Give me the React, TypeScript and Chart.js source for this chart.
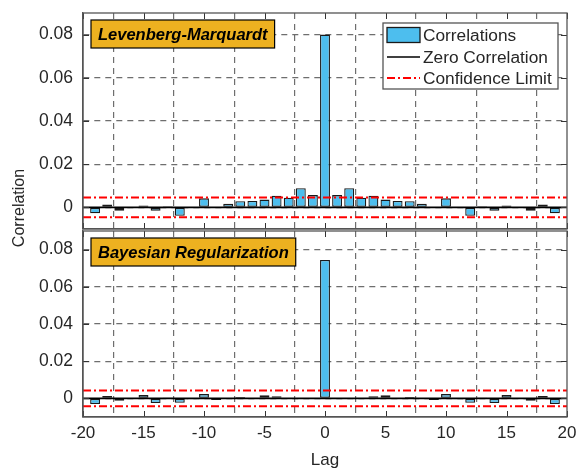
import React, { useEffect, useRef } from "react";
import { Chart, registerables } from "chart.js";

Chart.register(...registerables);

// ---------- data ----------
const lags = [
  -20, -19, -18, -17, -16, -15, -14, -13, -12, -11, -10, -9, -8, -7, -6, -5, -4, -3, -2, -1,
  0, 1, 2, 3, 4, 5, 6, 7, 8, 9, 10, 11, 12, 13, 14, 15, 16, 17, 18, 19, 20,
];

const lmCorrelations = [
  0, -0.0027, 0.0013, -0.0015, 0, 0.0009, -0.0016, 0.0005, -0.0039, -0.0002, 0.0042, 0, 0.0017,
  0.0029, 0.003, 0.0036, 0.0054, 0.0045, 0.0089, 0.0057,
  0.08,
  0.0057, 0.0089, 0.0045, 0.0054, 0.0036, 0.003, 0.0029, 0.0017, 0, 0.0042, -0.0002, -0.0039,
  0.0005, -0.0016, 0.0009, 0, -0.0015, 0.0013, -0.0027, 0,
];

const brCorrelations = [
  0, -0.003, 0.0013, -0.0013, 0, 0.0018, -0.0025, 0.0002, -0.0024, -0.0005, 0.0023, -0.0008, 0,
  0.0008, 0, 0.0017, 0.0012, 0, 0, 0,
  0.0744,
  0, 0, 0, 0.0012, 0.0017, 0, 0.0008, 0, -0.0008, 0.0023, -0.0005, -0.0024, 0.0002, -0.0025,
  0.0018, 0, -0.0013, 0.0013, -0.003, 0,
];

const lmConfidence = 0.0046;
const brConfidence = 0.0042;

const yTickValues = [0, 0.02, 0.04, 0.06, 0.08];
const xTickValues = [-20, -15, -10, -5, 0, 5, 10, 15, 20];
const yRange = [-0.01, 0.09];
const xRange = [-20, 20];

const panelTitles = ["Levenberg-Marquardt", "Bayesian Regularization"];
const legendLabels = ["Correlations", "Zero Correlation", "Confidence Limit"];
const xAxisTitle = "Lag";
const yAxisTitle = "Correlation";

// ---------- style ----------
const FONT = '"Liberation Sans", Arial, Helvetica, sans-serif';
const BAR_FILL = "#4DBEEE";
const BAR_EDGE = "#1a1a1a";
const TEXT = "#262626";
const FRAME = "#555555";
const GRID = "rgba(85,85,85,0.85)";
const LABEL_FILL = "#EDB120";
const DASHDOT = [8, 3, 2, 3];

function buildDatasets(values: number[], conf: number) {
  return [
    {
      type: "bar" as const,
      label: legendLabels[0],
      data: lags.map((l, i) => ({ x: l, y: values[i] })),
      backgroundColor: BAR_FILL,
      borderColor: BAR_EDGE,
      borderWidth: 1.3,
      borderSkipped: false as const,
      barPercentage: 0.82,
      categoryPercentage: 1,
      order: 2,
    },
    {
      type: "line" as const,
      label: legendLabels[1],
      data: [
        { x: xRange[0], y: 0 },
        { x: xRange[1], y: 0 },
      ],
      borderColor: "#000000",
      borderWidth: 1.6,
      pointRadius: 0,
      order: 1,
    },
    {
      type: "line" as const,
      label: legendLabels[2],
      data: [
        { x: xRange[0], y: conf },
        { x: xRange[1], y: conf },
      ],
      borderColor: "#ff0000",
      borderWidth: 2,
      borderDash: DASHDOT,
      pointRadius: 0,
      order: 0,
    },
    {
      type: "line" as const,
      label: "",
      data: [
        { x: xRange[0], y: -conf },
        { x: xRange[1], y: -conf },
      ],
      borderColor: "#ff0000",
      borderWidth: 2,
      borderDash: DASHDOT,
      pointRadius: 0,
      order: 0,
    },
  ];
}

function framePlugin(title: string, withLegend: boolean, withYTitle: boolean) {
  return {
    id: "frame",
    afterDatasetsDraw(chart: any) {
      const { ctx, chartArea } = chart;
      const { left, right, top, bottom } = chartArea;
      const xs = chart.scales.x;
      const ys = chart.scales.y;
      ctx.save();
      // inward ticks
      ctx.strokeStyle = "#333";
      ctx.lineWidth = 1;
      ctx.setLineDash([]);
      const tl = 6;
      xTickValues.forEach((v) => {
        const px = Math.round(xs.getPixelForValue(v)) + 0.5;
        ctx.beginPath();
        ctx.moveTo(px, bottom);
        ctx.lineTo(px, bottom - tl);
        ctx.moveTo(px, top);
        ctx.lineTo(px, top + tl);
        ctx.stroke();
      });
      yTickValues.forEach((v) => {
        const py = Math.round(ys.getPixelForValue(v)) + 0.5;
        ctx.beginPath();
        ctx.moveTo(left, py);
        ctx.lineTo(left + tl, py);
        ctx.moveTo(right, py);
        ctx.lineTo(right - tl, py);
        ctx.stroke();
      });
      // frame
      ctx.strokeStyle = FRAME;
      ctx.lineWidth = 1.3;
      ctx.strokeRect(left, top, right - left, bottom - top);

      // panel label
      ctx.font = `italic bold 16.5px ${FONT}`;
      const tw = ctx.measureText(title).width;
      const bx = left + 8;
      const by = top + 7;
      const bw = tw + 14;
      const bh = 28;
      ctx.fillStyle = LABEL_FILL;
      ctx.fillRect(bx, by, bw, bh);
      ctx.strokeStyle = "#000";
      ctx.lineWidth = 1.2;
      ctx.strokeRect(bx, by, bw, bh);
      ctx.fillStyle = "#000";
      ctx.textBaseline = "middle";
      ctx.textAlign = "left";
      ctx.fillText(title, bx + 7, by + bh / 2 + 1);

      if (withLegend) {
        const lw = 175;
        const lh = 66;
        const lx = right - 9 - lw;
        const ly = top + 10;
        ctx.fillStyle = "#fff";
        ctx.fillRect(lx, ly, lw, lh);
        ctx.strokeStyle = FRAME;
        ctx.lineWidth = 1.3;
        ctx.strokeRect(lx, ly, lw, lh);
        const sx0 = lx + 4;
        const sx1 = lx + 37;
        const rows = [ly + 12, ly + 34, ly + 55];
        // bar patch
        ctx.fillStyle = BAR_FILL;
        ctx.fillRect(sx0, rows[0] - 7.5, sx1 - sx0, 15);
        ctx.strokeStyle = BAR_EDGE;
        ctx.lineWidth = 1.3;
        ctx.strokeRect(sx0, rows[0] - 7.5, sx1 - sx0, 15);
        // zero line
        ctx.strokeStyle = "#000";
        ctx.lineWidth = 1.6;
        ctx.beginPath();
        ctx.moveTo(sx0, rows[1]);
        ctx.lineTo(sx1, rows[1]);
        ctx.stroke();
        // confidence
        ctx.strokeStyle = "#ff0000";
        ctx.lineWidth = 2;
        ctx.setLineDash(DASHDOT);
        ctx.beginPath();
        ctx.moveTo(sx0, rows[2]);
        ctx.lineTo(sx1, rows[2]);
        ctx.stroke();
        ctx.setLineDash([]);
        ctx.fillStyle = TEXT;
        ctx.font = `17.3px ${FONT}`;
        ctx.textBaseline = "middle";
        legendLabels.forEach((t, i) => ctx.fillText(t, sx1 + 3, rows[i] + 1));
      }

      if (withYTitle) {
        ctx.save();
        ctx.translate(20, 208);
        ctx.rotate(-Math.PI / 2);
        ctx.fillStyle = TEXT;
        ctx.font = `16px ${FONT}`;
        ctx.textAlign = "center";
        ctx.textBaseline = "middle";
        ctx.fillText(yAxisTitle, 0, 0);
        ctx.restore();
      }
      ctx.restore();
    },
  };
}

function buildConfig(values: number[], conf: number, panel: number) {
  const isTop = panel === 0;
  return {
    type: "bar" as const,
    data: { datasets: buildDatasets(values, conf) as any },
    options: {
      animation: false as const,
      responsive: false,
      events: [],
      layout: {
        padding: isTop
          ? { left: 0, right: 10, top: 13, bottom: 240 }
          : { left: 0, right: 10, top: 231, bottom: 0 },
      },
      plugins: {
        legend: { display: false },
        tooltip: { enabled: false },
        title: { display: false },
      },
      scales: {
        x: {
          type: "linear" as const,
          min: xRange[0],
          max: xRange[1],
          offset: false,
          afterBuildTicks: (s: any) => {
            s.ticks = xTickValues.map((v) => ({ value: v }));
          },
          afterFit: (s: any) => {
            s.height = isTop ? 0 : 52;
            s.paddingLeft = 0;
            s.paddingRight = 0;
          },
          ticks: {
            display: !isTop,
            color: TEXT,
            padding: 6,
            font: { family: FONT, size: 17 },
            maxRotation: 0,
            autoSkip: false,
            callback: (v: any) => String(v),
          },
          grid: {
            color: GRID,
            lineWidth: 1.2,
            drawTicks: false,
          },
          border: { display: true, color: FRAME, width: 1.3, dash: [6, 5] },
          title: {
            display: !isTop,
            text: xAxisTitle,
            color: TEXT,
            font: { family: FONT, size: 17 },
            padding: { top: 0, bottom: -2 },
          },
        },
        y: {
          type: "linear" as const,
          min: yRange[0],
          max: yRange[1],
          afterBuildTicks: (s: any) => {
            s.ticks = yTickValues.map((v) => ({ value: v }));
          },
          afterFit: (s: any) => {
            s.width = 83;
            s.paddingTop = 0;
            s.paddingBottom = 0;
          },
          ticks: {
            color: TEXT,
            padding: 10,
            font: { family: FONT, size: 17.5 },
            callback: (v: any) => (v === 0 ? "0" : Number(v).toFixed(2)),
          },
          grid: {
            color: GRID,
            lineWidth: 1.2,
            drawTicks: false,
          },
          border: { display: true, color: FRAME, width: 1.3, dash: [6, 5] },
        },
      },
    },
    plugins: [framePlugin(panelTitles[panel], isTop, !isTop)],
  };
}

export default function App() {
  const topRef = useRef<HTMLCanvasElement | null>(null);
  const botRef = useRef<HTMLCanvasElement | null>(null);

  useEffect(() => {
    if (!topRef.current || !botRef.current) return;
    const c1 = new Chart(topRef.current, buildConfig(lmCorrelations, lmConfidence, 0) as any);
    const c2 = new Chart(botRef.current, buildConfig(brCorrelations, brConfidence, 1) as any);
    return () => {
      c1.destroy();
      c2.destroy();
    };
  }, []);

  return (
    <div style={{ position: "fixed", left: 0, top: 0, width: 577, height: 469, background: "#fff" }}>
      <canvas ref={topRef} width={577} height={469} style={{ position: "absolute", left: 0, top: 0 }} />
      <canvas ref={botRef} width={577} height={469} style={{ position: "absolute", left: 0, top: 0 }} />
    </div>
  );
}
